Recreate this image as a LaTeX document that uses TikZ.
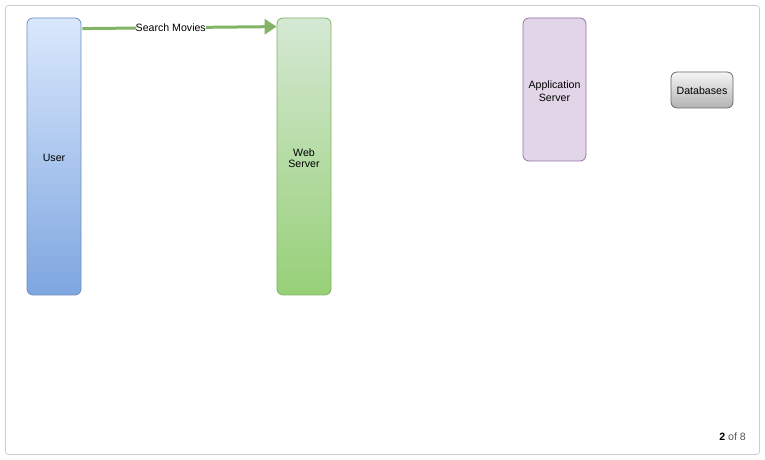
\documentclass[tikz,border=0pt]{standalone}
\usepackage{fontspec}
\setmainfont{Liberation Sans}
\usetikzlibrary{arrows.meta,calc}
\definecolor{userTop}{HTML}{DAE8FC}
\definecolor{userBot}{HTML}{7EA6E0}
\definecolor{userLine}{HTML}{6C8EBF}
\definecolor{webTop}{HTML}{D5E8D4}
\definecolor{webBot}{HTML}{97D077}
\definecolor{webLine}{HTML}{82B366}
\definecolor{appFill}{HTML}{E1D5E7}
\definecolor{appLine}{HTML}{9673A6}
\definecolor{dbTop}{HTML}{F5F5F5}
\definecolor{dbBot}{HTML}{B3B3B3}
\definecolor{dbLine}{HTML}{666666}
\definecolor{frameLine}{HTML}{CCCCCC}
\definecolor{pageGray}{HTML}{555555}
\newcommand{\lowtext}[2][1.5pt]{\raisebox{-#1}[\height][\depth]{\shortstack{#2}}}
\tikzset{
  txt/.style={font=\fontsize{10.6}{12.5}\selectfont},
  box/.style={rounded corners=6pt, line width=0.8pt, inner sep=0pt, align=center, txt},
  arrowline/.style={line width=3pt, draw=webLine, -{Triangle[length=12pt,width=15pt]}},
}
\begin{document}
\begin{tikzpicture}[x=1pt,y=1pt]
\useasboundingbox (0,0) rectangle (765,460);
\draw[frameLine, line width=0.8pt, rounded corners=3pt] (5.5,5.5) rectangle (759.5,454.5);
\node[box, draw=userLine, top color=userTop, bottom color=userBot,
  minimum width=54pt, minimum height=277pt] (user) at (54,303.5) {\lowtext{User}};
\node[box, draw=webLine, top color=webTop, bottom color=webBot,
  minimum width=54pt, minimum height=277pt] (web) at (304,303.5) {\lowtext{Web\\Server}};
\node[box, draw=appLine, fill=appFill,
  minimum width=63pt, minimum height=143pt] (app) at (554.5,370.5) {\lowtext[2pt]{Application\\Server}};
\node[box, draw=dbLine, top color=dbTop, bottom color=dbBot,
  minimum width=62pt, minimum height=36pt] (db) at (702,370) {\lowtext[1pt]{Databases}};
\draw[arrowline] ($(user.north east)+(1,-11)$) -- ($(web.north west)+(0,-9)$)
  node[pos=0.455, fill=white, inner sep=0pt, txt, text=black] (lbl) {Search Movies};
\node[anchor=east, txt, inner sep=0pt] (page) at (746,23)
  {\textbf{2} \textcolor{pageGray}{of 8}};
\end{tikzpicture}
\end{document}
